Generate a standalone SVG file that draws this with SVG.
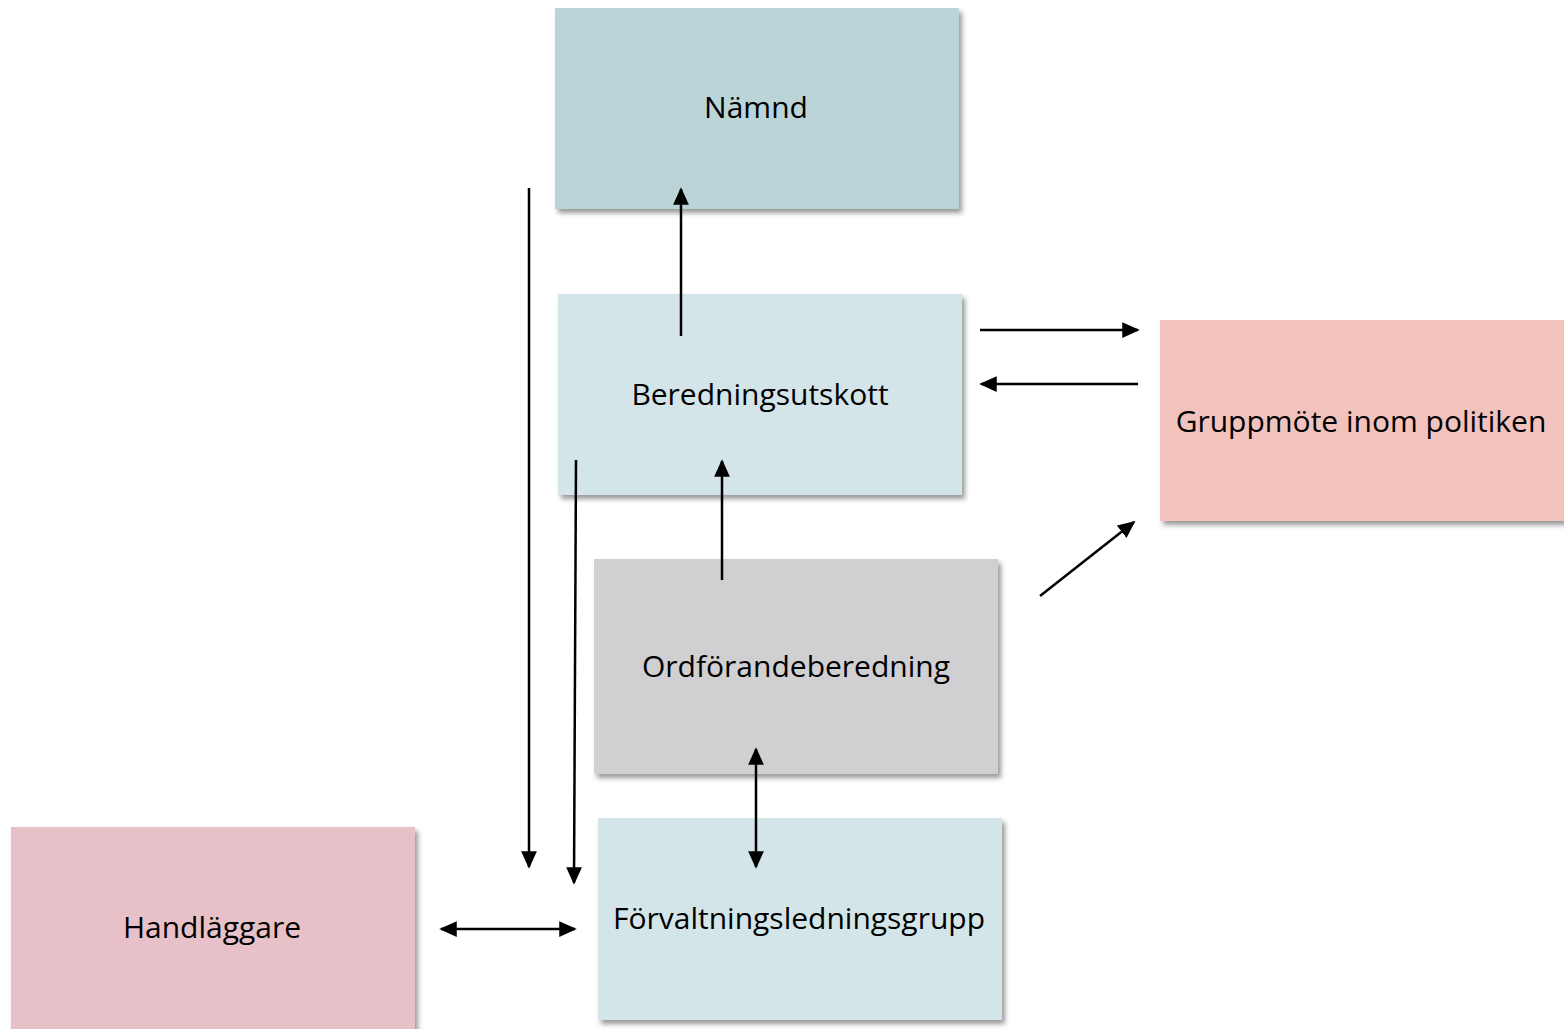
<svg xmlns="http://www.w3.org/2000/svg" width="1564" height="1029" viewBox="0 0 1564 1029">
<defs>
<filter id="sh" x="-5%" y="-5%" width="115%" height="120%">
<feDropShadow dx="3" dy="4" stdDeviation="2.5" flood-color="#000" flood-opacity="0.4"/>
</filter>
<marker id="a" viewBox="0 0 10 10" refX="9" refY="5" markerWidth="7" markerHeight="7" orient="auto-start-reverse">
<path d="M0,0.5 L10,5 L0,9.5 z" fill="#000"/>
</marker>
</defs>
<style>
.t{font-family:"Open Sans","Noto Sans",sans-serif;font-size:30px;fill:#000;text-anchor:middle;dominant-baseline:central}
.c{stroke:#000;stroke-width:2.5;fill:none}
</style>
<rect width="1564" height="1029" fill="#fff"/>
<g id="namnd"><rect x="555" y="8" width="404" height="201" fill="#bad4d7" filter="url(#sh)"/><text class="t" x="756" y="106">Nämnd</text></g>
<g id="beredningsutskott"><rect x="558" y="294" width="404" height="201" fill="#d3e5e8" filter="url(#sh)"/><text class="t" x="760" y="393">Beredningsutskott</text></g>
<g id="gruppmote"><rect x="1160" y="320" width="410" height="201" fill="#f2c2bd" filter="url(#sh)"/><text class="t" x="1361" y="420">Gruppmöte inom politiken</text></g>
<g id="ordforandeberedning"><rect x="594" y="559" width="404" height="215" fill="#d0cfd1" filter="url(#sh)"/><text class="t" x="796" y="665">Ordförandeberedning</text></g>
<g id="forvaltningsledningsgrupp"><rect x="598" y="818" width="404" height="202" fill="#d3e5e8" filter="url(#sh)"/><text class="t" x="799" y="917">Förvaltningsledningsgrupp</text></g>
<g id="handlaggare"><rect x="11" y="827" width="404" height="210" fill="#e8c1c8" filter="url(#sh)"/><text class="t" x="212" y="926">Handläggare</text></g>
<g id="connectors">
<line class="c" x1="681" y1="336" x2="681" y2="189" marker-end="url(#a)"/>
<line class="c" x1="529" y1="188" x2="529" y2="867" marker-end="url(#a)"/>
<line class="c" x1="576" y1="460" x2="574" y2="883" marker-end="url(#a)"/>
<line class="c" x1="980" y1="330" x2="1138" y2="330" marker-end="url(#a)"/>
<line class="c" x1="1138" y1="384" x2="981" y2="384" marker-end="url(#a)"/>
<line class="c" x1="1040" y1="596" x2="1134" y2="522" marker-end="url(#a)"/>
<line class="c" x1="722" y1="580" x2="722" y2="461" marker-end="url(#a)"/>
<line class="c" x1="756" y1="749" x2="756" y2="867" marker-start="url(#a)" marker-end="url(#a)"/>
<line class="c" x1="441" y1="929" x2="575" y2="929" marker-start="url(#a)" marker-end="url(#a)"/>
</g>
</svg>
